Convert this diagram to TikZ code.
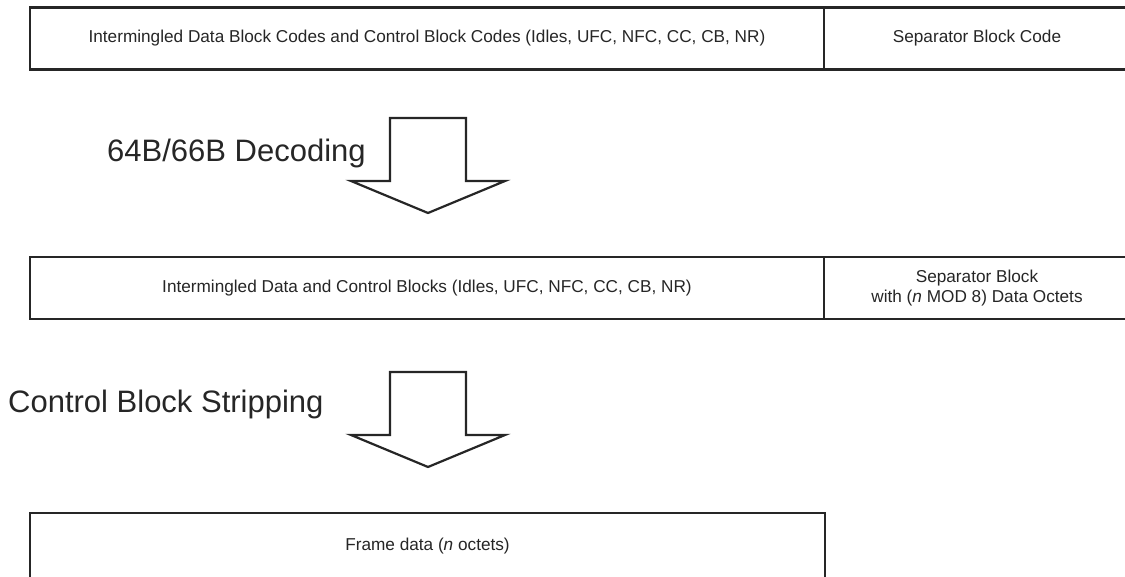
\documentclass[tikz,border=0pt]{standalone}
\usepackage{fontspec}
\setmainfont{Liberation Sans}
\tikzset{
  x=1pt, y=-1pt,
  field/.style={draw=black!85, line width=2.2pt, fill=white, inner sep=0pt,
                outer sep=0pt, minimum height=62pt, align=center, text=black!85,
                font=\fontsize{17.2}{20}\selectfont},
  bigarrow/.style={draw=black!85, line width=2.2pt, line join=miter, fill=white},
  steplabel/.style={font=\fontsize{31}{36}\selectfont, text=black!85, inner sep=0pt}
}
\begin{document}
\begin{tikzpicture}
\useasboundingbox (0,0) rectangle (1125,577);
\clip (0,0) rectangle (1125,577);

% coded stream
\node[field, minimum width=794pt] (codes) at (427,38.5)
  {Intermingled Data Block Codes and Control Block Codes (Idles, UFC, NFC, CC, CB, NR)};
\node[field, minimum width=306pt, anchor=west] (sepcode) at (codes.east)
  {Separator Block Code};

% first transformation
\draw[bigarrow] (390,118) -- (466,118) -- (466,181) -- (505,181) -- (428,213)
  -- (351,181) -- (390,181) -- cycle;
\node[steplabel, anchor=base west] (dec) at (107,162) {64B/66B Decoding};

% decoded stream
\node[field, minimum width=794pt] (blocks) at (427,288)
  {Intermingled Data and Control Blocks (Idles, UFC, NFC, CC, CB, NR)};
\node[field, minimum width=306pt, anchor=west] (sepblock) at (blocks.east)
  {Separator Block\\with (\textit{n} MOD 8) Data Octets};

% second transformation
\draw[bigarrow] (390,372) -- (466,372) -- (466,435) -- (505,435) -- (428,467)
  -- (351,435) -- (390,435) -- cycle;
\node[steplabel, anchor=base west] (strip) at (8,413) {Control Block Stripping};

% frame payload
\node[field, minimum width=795pt, minimum height=66pt] (frame) at (427.5,546)
  {Frame data (\textit{n} octets)};
\end{tikzpicture}
\end{document}
